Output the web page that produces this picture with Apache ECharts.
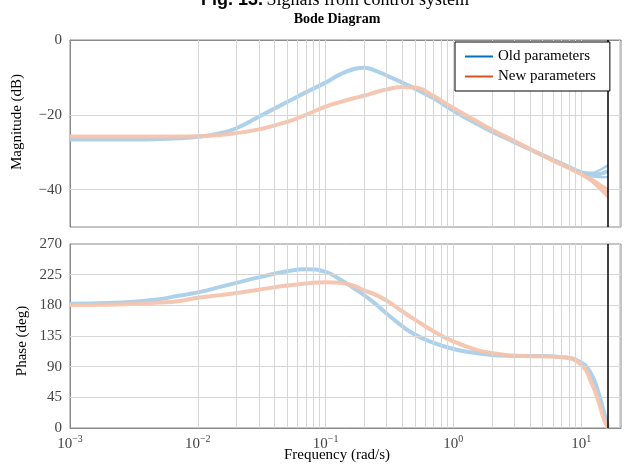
<!DOCTYPE html>
<html>
<head>
<meta charset="utf-8">
<script src="https://cdn.jsdelivr.net/npm/echarts@6/dist/echarts.min.js"></script>
<style>
  html, body { margin: 0; padding: 0; background: #fff; }
  #chart { width: 625px; height: 464px; }
</style>
</head>
<body>
<div id="chart"></div>
<script>
// Frequency samples (rad/s)
const freq = [0.001, 0.002, 0.003, 0.005, 0.007, 0.01, 0.015, 0.02, 0.03, 0.05, 0.07,
              0.1, 0.13, 0.17, 0.2, 0.25, 0.3, 0.4, 0.5, 0.7, 1, 1.5, 2, 3, 5, 7,
              10, 12, 13.5, 15, 16.2];

// Magnitude (dB)
const magOld = [-26.6, -26.6, -26.6, -26.5, -26.3, -25.9, -24.9, -23.6, -20.5, -16.6, -14.0,
                -11.4, -9.2, -7.7, -7.4, -8.3, -9.5, -11.4, -13.0, -15.6, -18.9, -22.3, -24.5, -27.3, -30.8, -33.0,
                -35.4, -36.0, -35.9, -35.5, -35.0];
const magNew = [-25.8, -25.8, -25.8, -25.8, -25.8, -25.7, -25.4, -24.9, -23.9, -21.9, -20.0,
                -17.8, -16.6, -15.5, -14.9, -13.9, -13.2, -12.6, -12.7, -15.0, -18.2, -21.6, -24.0, -27.0, -30.9, -33.3,
                -35.9, -37.4, -38.8, -40.0, -40.9];

// Spread of the magnitude response near the Nyquist frequency
const tailFreq = [10, 12, 13.5, 15, 16.2];
const magOldUpper = [-35.3, -35.5, -35.0, -34.2, -33.5];
const magOldLower = [-35.5, -36.4, -36.6, -36.7, -36.6];
const magNewUpper = [-35.8, -37.0, -38.2, -39.2, -39.8];
const magNewLower = [-36.0, -37.8, -39.4, -40.9, -42.0];

// Phase (deg)
const phaseOld = [182.5, 183.5, 185, 189, 194, 199, 207, 213, 221, 230, 233,
                  229, 218, 204, 195, 181, 168, 149, 137, 125, 116, 110, 107, 105.5, 105.5, 104,
                  96, 79, 55, 25, 2];
const phaseNew = [180.5, 181, 182, 184, 186, 191, 195, 198, 203, 209, 212,
                  214, 213, 208, 202, 195, 187, 171, 159, 142, 127, 115, 110, 106, 105, 104,
                  93, 67, 42, 14, 0];

const nyquist = 16.2;
const magTicks = [-40, -20, 0];
const phaseTicks = [0, 45, 90, 135, 180, 225, 270];
const seriesNames = ['Old parameters', 'New parameters'];

const SERIF = '"Liberation Serif", "DejaVu Serif", serif';
const FRAME = '#8a8a8a';
const GRID = '#d6d6d6';
const OLD_BAND = '#a9cfea';
const NEW_BAND = '#f4c3ad';

// Minor/major vertical grid positions for the log frequency axis
const vGrid = [];
for (let k = -3; k <= 1; k++) {
  for (let m = 1; m <= 9; m++) {
    const v = m * Math.pow(10, k);
    if (v > 0.0011 && v < 20.5) vGrid.push(v);
  }
}

const pairs = (xs, ys) => xs.map((x, i) => [x, ys[i]]);

function xAxis(gridIndex, showLabels) {
  return {
    type: 'log', logBase: 10, gridIndex, min: 0.001, max: 20.5,
    axisLine: { show: true, lineStyle: { color: FRAME, width: 1 } },
    axisTick: { show: false },
    splitLine: { show: false },
    axisLabel: {
      show: showLabels, margin: 6, color: '#444', fontFamily: SERIF,
      showMaxLabel: false,
      formatter: v => {
        const lg = Math.log10(v), e = Math.round(lg);
        if (Math.abs(lg - e) > 1e-6) return '';
        return '{b|10}{s|' + (e < 0 ? '\u2212' + (-e) : e) + '}';
      },
      rich: {
        b: { fontSize: 15, fontFamily: SERIF, color: '#444' },
        s: { fontSize: 10, fontFamily: SERIF, color: '#444', padding: [0, 0, 10, 0] }
      }
    }
  };
}

function yAxis(gridIndex, min, max, interval, shown) {
  return {
    type: 'value', gridIndex, min, max, interval,
    axisLine: { show: true, lineStyle: { color: FRAME, width: 1 } },
    axisTick: { show: false },
    splitLine: { show: false },
    axisLabel: {
      margin: 8, color: '#444', fontFamily: SERIF, fontSize: 15,
      formatter: v => shown.includes(v) ? String(v).replace('-', '\u2212') : ''
    }
  };
}

function gridLines(xIdx, yIdx, hValues) {
  return {
    type: 'line', xAxisIndex: xIdx, yAxisIndex: yIdx, data: [], silent: true, z: 1,
    markLine: {
      silent: true, symbol: 'none', animation: false,
      label: { show: false },
      lineStyle: { color: GRID, width: 1, type: 'solid' },
      data: vGrid.map(v => ({ xAxis: v })).concat(hValues.map(v => ({ yAxis: v })))
    }
  };
}

function nyquistLine(xIdx, yIdx) {
  return {
    type: 'line', xAxisIndex: xIdx, yAxisIndex: yIdx, data: [], silent: true, z: 6,
    markLine: {
      silent: true, symbol: 'none', animation: false,
      label: { show: false },
      lineStyle: { color: '#000', width: 1.5, type: 'solid' },
      data: [{ xAxis: nyquist }]
    }
  };
}

function curve(name, xIdx, yIdx, data, color, width) {
  return {
    name, type: 'line', xAxisIndex: xIdx, yAxisIndex: yIdx, data,
    smooth: true, showSymbol: false, symbol: 'none', z: 3,
    lineStyle: { color, width, opacity: 0.95 }, itemStyle: { color },
    emphasis: { disabled: true }
  };
}

const chart = echarts.init(document.getElementById('chart'), null, { renderer: 'canvas' });

chart.setOption({
  animation: false,
  backgroundColor: '#fff',
  grid: [
    { left: 70, top: 40, width: 551, height: 187, show: true, borderColor: FRAME, borderWidth: 1, backgroundColor: 'transparent' },
    { left: 70, top: 244, width: 551, height: 184, show: true, borderColor: FRAME, borderWidth: 1, backgroundColor: 'transparent' }
  ],
  xAxis: [xAxis(0, false), xAxis(1, true)],
  yAxis: [yAxis(0, -50, 0, 10, magTicks), yAxis(1, 0, 270, 45, phaseTicks)],
  legend: {
    left: 455, top: 42, orient: 'vertical', z: 20,
    backgroundColor: '#fff', borderColor: '#000', borderWidth: 1, borderRadius: 0,
    padding: [7, 14, 7, 10], itemGap: 5, itemWidth: 28, itemHeight: 2,
    icon: 'rect', selectedMode: false,
    textStyle: { fontFamily: SERIF, fontSize: 15, color: '#000', padding: [0, 0, 0, 0] },
    data: [
      { name: seriesNames[0], itemStyle: { color: '#0072BD' } },
      { name: seriesNames[1], itemStyle: { color: '#D95319' } }
    ]
  },
  graphic: [
    { type: 'text', x: 335, y: 9, silent: true,
      style: { text: '{b|Fig. 13.} {r|Signals from control system}', align: 'center', verticalAlign: 'bottom',
        rich: { b: { font: 'bold 18px "Liberation Sans", sans-serif', fill: '#000' },
                r: { font: '18px "Liberation Serif", serif', fill: '#000' } } } },
    { type: 'text', x: 337, y: 19, silent: true,
      style: { text: 'Bode Diagram', font: 'bold 14px "Liberation Serif", serif', fill: '#000', align: 'center', verticalAlign: 'middle' } },
    { type: 'text', x: 17, y: 122, rotation: Math.PI / 2, silent: true,
      style: { text: 'Magnitude (dB)', font: '15px "Liberation Serif", serif', fill: '#000', align: 'center', verticalAlign: 'middle' } },
    { type: 'text', x: 22, y: 341, rotation: Math.PI / 2, silent: true,
      style: { text: 'Phase (deg)', font: '15px "Liberation Serif", serif', fill: '#000', align: 'center', verticalAlign: 'middle' } },
    { type: 'text', x: 337, y: 455, silent: true,
      style: { text: 'Frequency (rad/s)', font: '15px "Liberation Serif", serif', fill: '#000', align: 'center', verticalAlign: 'middle' } }
  ],
  series: [
    gridLines(0, 0, [-20, -40]),
    gridLines(1, 1, [45, 90, 135, 180, 225]),
    curve(seriesNames[0], 0, 0, pairs(freq, magOld), OLD_BAND, 4),
    curve(seriesNames[0], 0, 0, pairs(tailFreq, magOldUpper), OLD_BAND, 2.5),
    curve(seriesNames[0], 0, 0, pairs(tailFreq, magOldLower), OLD_BAND, 2.5),
    curve(seriesNames[1], 0, 0, pairs(freq, magNew), NEW_BAND, 4),
    curve(seriesNames[1], 0, 0, pairs(tailFreq, magNewUpper), NEW_BAND, 2.5),
    curve(seriesNames[1], 0, 0, pairs(tailFreq, magNewLower), NEW_BAND, 2.5),
    curve(seriesNames[0], 1, 1, pairs(freq, phaseOld), OLD_BAND, 4),
    curve(seriesNames[1], 1, 1, pairs(freq, phaseNew), NEW_BAND, 4),
    nyquistLine(0, 0),
    nyquistLine(1, 1)
  ]
});
</script>
</body>
</html>
